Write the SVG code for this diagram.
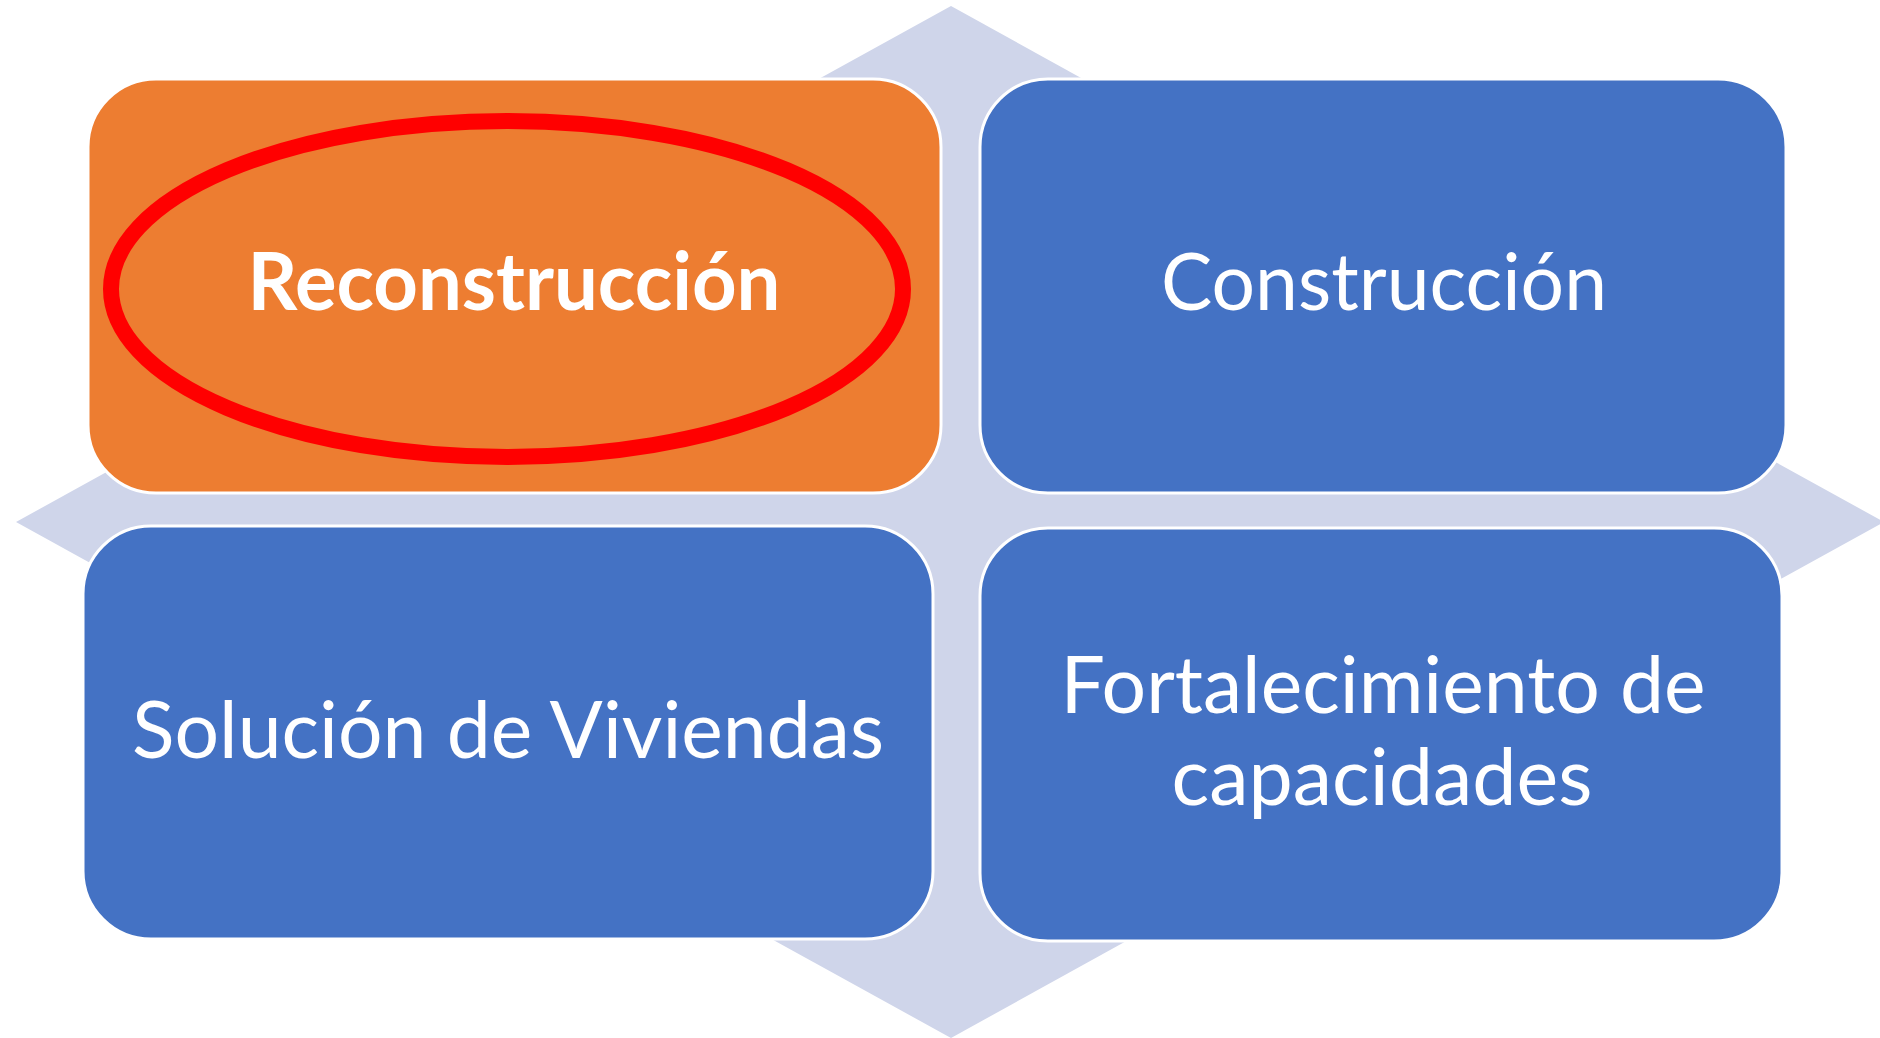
<svg xmlns="http://www.w3.org/2000/svg" width="1880" height="1038" viewBox="0 0 1880 1038">
<style>
.box{stroke:#ffffff;stroke-width:3}
.blue{fill:#4472C4}
.orange{fill:#ED7D31}
.t{font-family:Lato,"Open Sans","Liberation Sans",sans-serif;fill:#ffffff;font-size:80px;text-anchor:middle}
</style>
<rect width="1880" height="1038" fill="#ffffff"/>
<g id="background">
<polygon points="951,6 1884,522 951,1038 16,522" fill="#CFD5EA"/>
</g>
<g id="node-reconstruccion">
<rect class="box orange" x="88" y="79" width="853" height="414" rx="68" ry="68"/>
<ellipse cx="507" cy="289" rx="396" ry="168" fill="none" stroke="#FF0000" stroke-width="16"/>
<text class="t" x="514" y="310" font-weight="bold" textLength="533" lengthAdjust="spacingAndGlyphs">Reconstrucción</text>
</g>
<g id="node-construccion">
<rect class="box blue" x="980" y="79" width="806" height="414" rx="68" ry="68"/>
<text class="t" x="1384" y="310" textLength="446" lengthAdjust="spacingAndGlyphs">Construcción</text>
</g>
<g id="node-solucion">
<rect class="box blue" x="83" y="526" width="850" height="413" rx="68" ry="68"/>
<text class="t" x="508" y="758" textLength="752" lengthAdjust="spacingAndGlyphs">Solución de Viviendas</text>
</g>
<g id="node-fortalecimiento">
<rect class="box blue" x="980" y="528" width="802" height="413" rx="68" ry="68"/>
<text class="t" x="1383" y="713" textLength="645" lengthAdjust="spacingAndGlyphs">Fortalecimiento de</text>
<text class="t" x="1382" y="805" textLength="421" lengthAdjust="spacingAndGlyphs">capacidades</text>
</g>
<g id="connectors"></g>
</svg>
